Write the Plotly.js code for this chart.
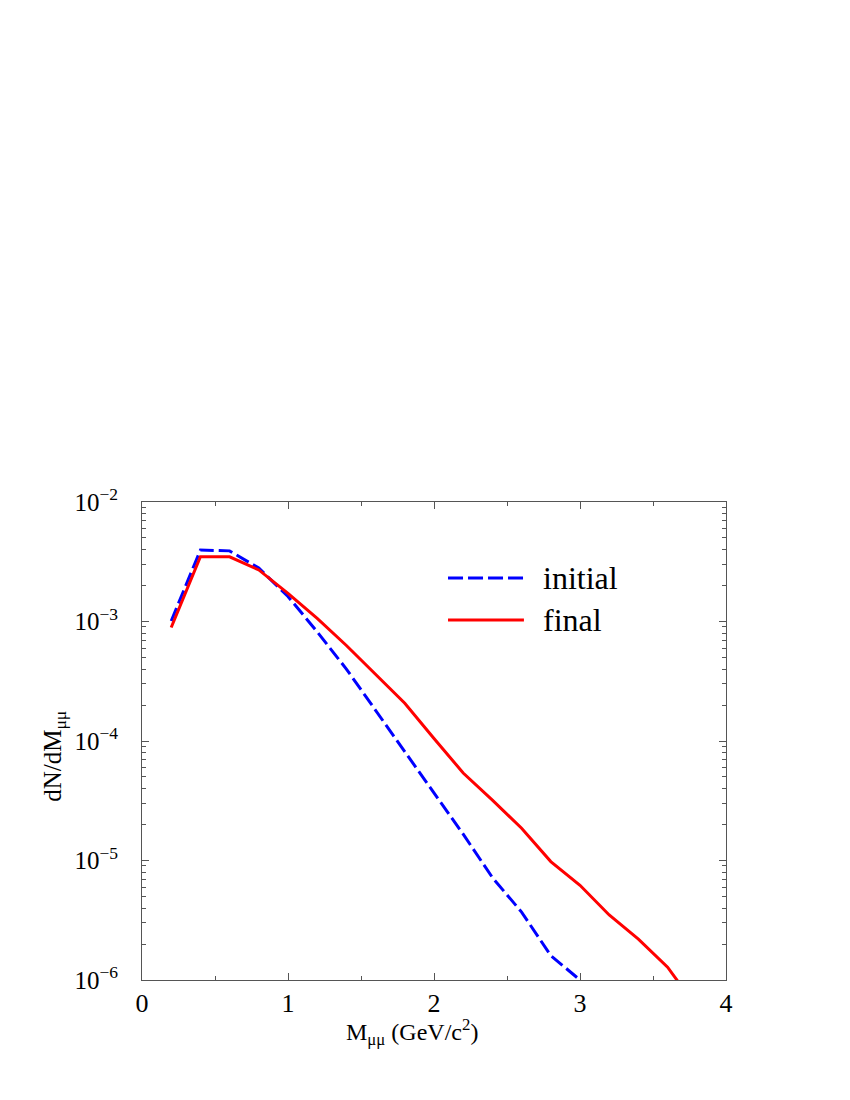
<!DOCTYPE html>
<html>
<head>
<meta charset="utf-8">
<script src="https://cdn.plot.ly/plotly-3.0.1.min.js"></script>
<style>
  body { margin: 0; background: #fff; }
  #plot { width: 850px; height: 1100px; }
</style>
</head>
<body>
<div id="plot"></div>
<script>
// dimuon mass spectra
var massInitial = [0.2, 0.4, 0.6, 0.8, 1.0, 1.2, 1.4, 1.6, 1.8, 2.0, 2.2, 2.4, 2.6, 2.8, 3.0];
var dndmInitial = [1.01e-3, 3.96e-3, 3.9e-3, 2.8e-3, 1.62e-3, 8.2e-4, 4.0e-4, 1.8e-4, 8.2e-5, 3.7e-5, 1.66e-5, 7.2e-6, 3.7e-6, 1.6e-6, 1.0e-6];

var massFinal = [0.2, 0.4, 0.6, 0.8, 1.0, 1.2, 1.4, 1.6, 1.8, 2.0, 2.2, 2.4, 2.6, 2.8, 3.0, 3.2, 3.4, 3.6, 3.8];
var dndmFinal = [8.9e-4, 3.48e-3, 3.48e-3, 2.7e-3, 1.72e-3, 1.06e-3, 6.3e-4, 3.6e-4, 2.07e-4, 1.05e-4, 5.4e-5, 3.2e-5, 1.86e-5, 9.8e-6, 6.2e-6, 3.5e-6, 2.2e-6, 1.28e-6, 5.9e-7];

var xTickVals = [0, 1, 2, 3, 4];
var xTickText = ["0", "1", "2", "3", "4"];
var yTickVals = [1e-6, 1e-5, 1e-4, 1e-3, 1e-2];
var yTickText = ["10<sup>\u22126</sup>", "10<sup>\u22125</sup>", "10<sup>\u22124</sup>", "10<sup>\u22123</sup>", "10<sup>\u22122</sup>"];

var seriesNames = ["initial", "final"];

var serif = "Liberation Serif";
var axisColor = "#555";

var trace1 = {
    type: "scatter",
    mode: "lines",
    name: seriesNames[0],
    x: massInitial,
    y: dndmInitial,
    line: {color: "#0000ff", width: 3, dash: "14px,5px"}
};

var trace2 = {
    type: "scatter",
    mode: "lines",
    name: seriesNames[1],
    x: massFinal,
    y: dndmFinal,
    line: {color: "#ff0000", width: 3}
};

var data = [trace1, trace2];

// hand-made legend, the samples are longer than plotly's own
var legY = [0.841, 0.753];
var legDash = ["15px,5px", "solid"];
var legColor = ["#0000ff", "#ff0000"];
var shapes = [];
var annotations = [];
for (var i = 0; i < 2; i++) {
    shapes.push({
        type: "line", xref: "paper", yref: "paper",
        x0: 0.524, x1: 0.654, y0: legY[i], y1: legY[i],
        line: {color: legColor[i], width: 3, dash: legDash[i]}
    });
    annotations.push({
        xref: "paper", yref: "paper", x: 0.683, y: legY[i],
        xanchor: "left", yanchor: "middle", showarrow: false,
        text: seriesNames[i],
        font: {family: serif, size: 32, color: "#000"}
    });
}

// axis titles as annotations (they sit off centre in the original)
annotations.push({
    xref: "paper", yref: "paper", x: 0.462, y: -0.109,
    xanchor: "center", yanchor: "middle", showarrow: false,
    text: "M<sub>\u03bc\u03bc</sub> (GeV/c<sup>2</sup>)",
    font: {family: serif, size: 24, color: "#000"}
});
annotations.push({
    xref: "paper", yref: "paper", x: -0.149, y: 0.469,
    xanchor: "center", yanchor: "middle", showarrow: false, textangle: -90,
    text: "dN/dM<sub>\u03bc\u03bc</sub>",
    font: {family: serif, size: 25, color: "#000"}
});

var layout = {
    width: 850,
    height: 1100,
    margin: {l: 142, r: 124, t: 502, b: 120},
    paper_bgcolor: "#fff",
    plot_bgcolor: "#fff",
    showlegend: false,
    font: {family: serif},
    xaxis: {
        range: [0, 4],
        tickmode: "array",
        tickvals: xTickVals,
        ticktext: xTickText,
        ticks: "inside",
        ticklen: 7,
        tickcolor: axisColor,
        showgrid: false,
        zeroline: false,
        showline: true,
        linecolor: axisColor,
        linewidth: 1,
        mirror: "allticks",
        tickfont: {family: serif, size: 26, color: "#000"},
        minor: {ticks: "inside", ticklen: 4, tickcolor: axisColor, tickmode: "linear", tick0: 0, dtick: 0.5, showgrid: false}
    },
    yaxis: {
        type: "log",
        range: [-6, -2],
        tickmode: "array",
        tickvals: yTickVals,
        ticktext: yTickText,
        ticks: "inside",
        ticklen: 7,
        tickcolor: axisColor,
        showgrid: false,
        zeroline: false,
        showline: true,
        linecolor: axisColor,
        linewidth: 1,
        mirror: "allticks",
        ticklabelstandoff: 18,
        tickfont: {family: serif, size: 25, color: "#000"},
        minor: {ticks: "inside", ticklen: 4, tickcolor: axisColor, dtick: "D1", showgrid: false}
    },
    shapes: shapes,
    annotations: annotations
};

Plotly.newPlot("plot", data, layout, {staticPlot: true});
</script>
</body>
</html>
